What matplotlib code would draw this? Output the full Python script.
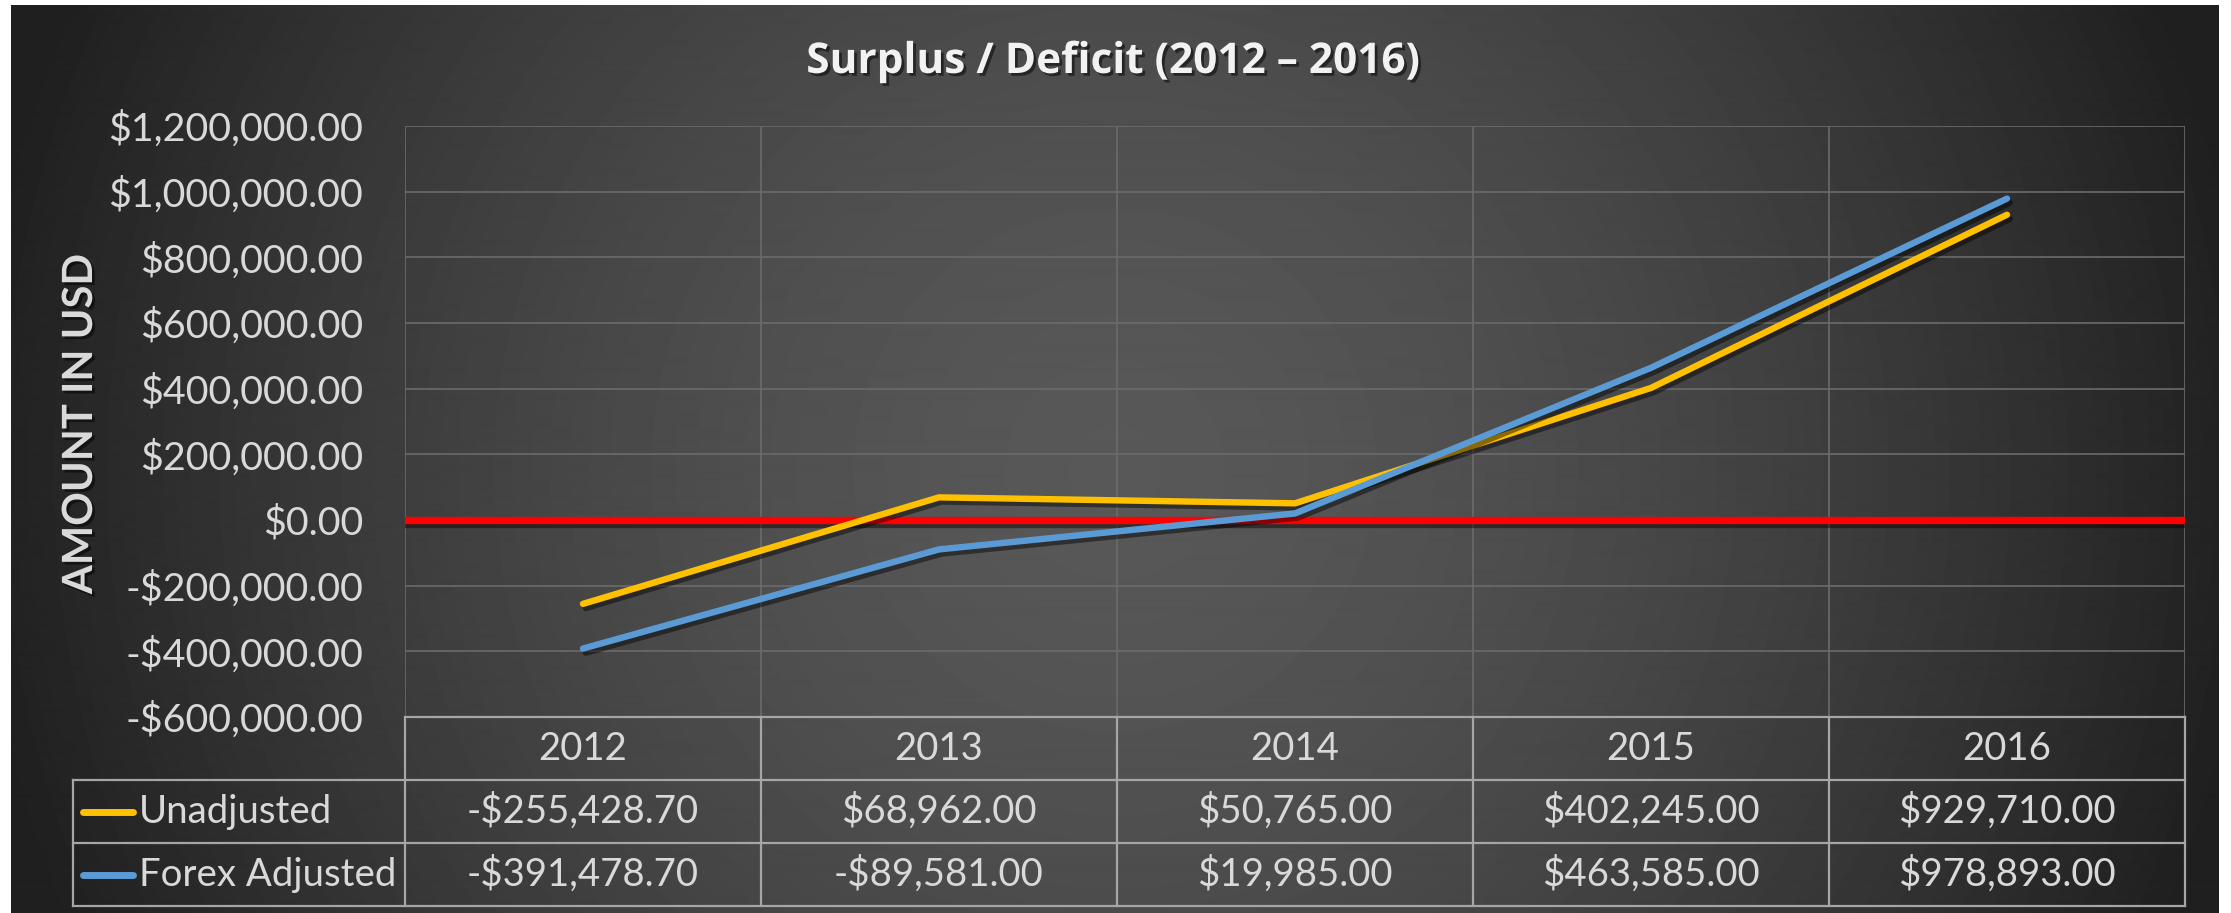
import numpy as np
import matplotlib
matplotlib.use('Agg')
import matplotlib.pyplot as plt
import matplotlib.patheffects as pe
from matplotlib.ticker import FuncFormatter

# ---- data ----
years = ['2012', '2013', '2014', '2015', '2016']
unadjusted = [-255428.70, 68962.00, 50765.00, 402245.00, 929710.00]
forex_adjusted = [-391478.70, -89581.00, 19985.00, 463585.00, 978893.00]
series_names = ['Unadjusted', 'Forex Adjusted']
series_colors = ['#FFC000', '#5B9BD5']
y_ticks = list(range(-600000, 1200001, 200000))
title = 'Surplus / Deficit (2012 \u2013 2016)'
y_label = 'AMOUNT IN USD'

plt.rcParams['font.family'] = ['Lato', 'DejaVu Sans']

W, H = 2231, 913
DPI = 100
fig = plt.figure(figsize=(W / DPI, H / DPI), dpi=DPI, facecolor='white')


def px(x0, y0, x1, y1):
    return [x0 / W, 1 - y1 / H, (x1 - x0) / W, (y1 - y0) / H]


def money(v, pos=None):
    s = '-' if v < 0 else ''
    return f'{s}${abs(v):,.2f}'


# ---- background radial gradient ----
bg = fig.add_axes(px(11, 5, 2219, 913))
bg.set_axis_off()
yy, xx = np.mgrid[5:913, 11:2219]
r = np.hypot(xx - 1115, yy - 470) / 1150.0
t = np.clip(r, 0, 1) ** 1.6
c = (0x58 - (0x58 - 0x1f) * t) / 255.0
bg.imshow(c, cmap='gray', vmin=0, vmax=1, aspect='auto',
          extent=(0, 1, 0, 1), interpolation='bilinear')
bg.set_xlim(0, 1)
bg.set_ylim(0, 1)

TXT = '#D9D9D9'
FS_TICK = 28.4
FS_TAB = 27.6

# ---- main plot ----
ax = fig.add_axes(px(405, 126, 2185, 717))
ax.patch.set_alpha(0)
x = np.arange(len(years))
ax.set_xlim(-0.5, len(years) - 0.5)
ax.set_ylim(y_ticks[0], y_ticks[-1])
ax.set_yticks(y_ticks)
ax.yaxis.set_major_formatter(FuncFormatter(money))
ax.set_xticks(np.arange(-0.5, len(years)))
ax.tick_params(axis='x', length=0, labelbottom=False)
ax.tick_params(axis='y', length=0, pad=30, labelsize=FS_TICK, labelcolor=TXT)
ax.grid(True, color='#6b6b6b', lw=1.2, zorder=0)
for s in ax.spines.values():
    s.set_visible(False)

shadow = [pe.SimpleLineShadow(offset=(2, -3), shadow_color='black', alpha=0.45),
          pe.Normal()]
ax.axhline(0, color='#FF0000', lw=5.3, zorder=3, path_effects=shadow)
for vals, name, col, z in zip([unadjusted, forex_adjusted], series_names,
                              series_colors, [4, 5]):
    ax.plot(x, vals, color=col, lw=4.6, solid_capstyle='round',
            solid_joinstyle='round', zorder=z, path_effects=shadow)

# ---- data table ----
cw = (2185 - 405) / len(years)
left_ext = (405 - 73) / cw
tx = fig.add_axes(px(73, 717, 2185, 906))
tx.set_axis_off()
x_left = -0.5 - left_ext
tx.set_xlim(x_left, len(years) - 0.5)
tx.set_ylim(0, 3)
LC = '#A6A6A6'
LW = 1.6
kw = dict(color=LC, lw=LW, clip_on=False)
tx.plot([-0.5, len(years) - 0.5], [3, 3], **kw)
for yl in [2, 1, 0]:
    tx.plot([x_left, len(years) - 0.5], [yl, yl], **kw)
for b in np.arange(-0.5, len(years)):
    tx.plot([b, b], [0, 3], **kw)
tx.plot([x_left, x_left], [0, 2], **kw)

for i, yr in enumerate(years):
    tx.text(i, 2.5, yr, ha='center', va='center', fontsize=FS_TAB, color=TXT)
for row, (vals, name, col) in enumerate(zip([unadjusted, forex_adjusted],
                                            series_names, series_colors)):
    yc = 1.5 - row
    for i, v in enumerate(vals):
        tx.text(i, yc, money(v), ha='center', va='center', fontsize=FS_TAB, color=TXT)
    tx.plot([x_left + 10 / cw, x_left + 60 / cw], [yc, yc], color=col, lw=5,
            solid_capstyle='round', clip_on=False)
    tx.text(x_left + 66 / cw, yc, name, ha='left', va='center', fontsize=FS_TAB, color=TXT)

# ---- titles ----
tshadow = [pe.withSimplePatchShadow(offset=(2, -2), shadow_rgbFace='black', alpha=0.5)]
fig.text(1113 / W, 1 - 73 / H, title, ha='center', va='baseline', fontsize=30.5,
         fontweight='bold', family=['Open Sans', 'DejaVu Sans'],
         color='#F2F2F2', path_effects=tshadow)
fig.text(80 / W, 1 - 424 / H, y_label, ha='center', va='center', rotation=90,
         fontsize=30, fontweight='bold', color=TXT, path_effects=tshadow)

fig.savefig('out.png', dpi=DPI, facecolor='white')
